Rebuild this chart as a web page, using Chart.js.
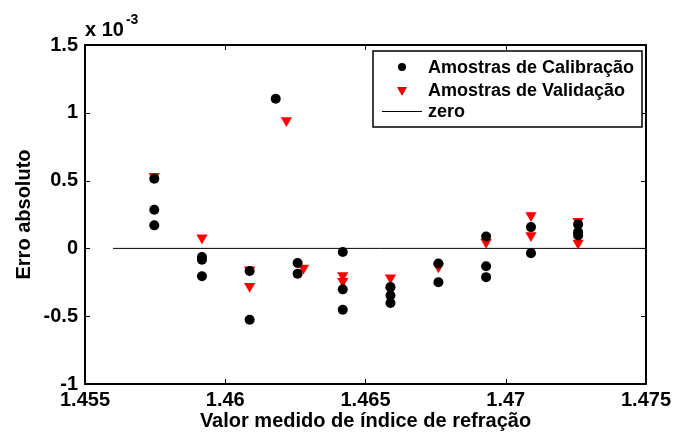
<!DOCTYPE html>
<html>
<head>
<meta charset="utf-8">
<script src="https://cdn.jsdelivr.net/npm/chart.js@4/dist/chart.umd.min.js"></script>
<style>
  html, body { margin: 0; padding: 0; background: #fff; }
  #wrap { width: 675px; height: 437px; }
</style>
</head>
<body>
<div id="wrap"><canvas id="chart" width="675" height="437"></canvas></div>
<script>
// erro absoluto em unidades de 10^-3
const calX = [1.45747, 1.45747, 1.45747, 1.45917, 1.45917, 1.45917, 1.46180,
  1.46087, 1.46087, 1.46258, 1.46258, 1.46419, 1.46419, 1.46419,
  1.46589, 1.46589, 1.46589, 1.46760, 1.46760, 1.46930, 1.46930, 1.46930,
  1.47090, 1.47090, 1.47258, 1.47258, 1.47258];
const calY = [0.514, 0.285, 0.170, -0.064, -0.083, -0.206, 1.104,
  -0.167, -0.526, -0.108, -0.187, -0.027, -0.302, -0.452,
  -0.285, -0.347, -0.403, -0.111, -0.249, 0.088, -0.131, -0.212,
  0.157, -0.035, 0.177, 0.120, 0.096];

const valX = [1.45747, 1.45917, 1.46218, 1.46087, 1.46087, 1.46279,
  1.46419, 1.46419, 1.46589, 1.46589, 1.46760, 1.46930,
  1.47090, 1.47090, 1.47258, 1.47258];
const valY = [0.533, 0.079, 0.944, -0.157, -0.280, -0.145,
  -0.199, -0.243, -0.216, -0.310, -0.135, 0.046,
  0.243, 0.096, 0.201, 0.039];

const zeroX = [1.456, 1.475];
const zeroY = [0, 0];

const seriesNames = ['Amostras de Calibração', 'Amostras de Validação', 'zero'];
const xTitle = 'Valor medido de índice de refração';
const yTitle = 'Erro absoluto';

const FONT = "'Liberation Sans', Arial, sans-serif";

function pts(xs, ys) {
  return xs.map((x, i) => ({ x: x, y: ys[i] }));
}

// caixa do grafico + ticks para dentro (estilo matlab)
const boxPlugin = {
  id: 'box',
  afterDraw(chart) {
    const ctx = chart.ctx;
    const a = chart.chartArea;
    const xs = chart.scales.x, ys = chart.scales.y;
    ctx.save();
    ctx.strokeStyle = '#000';
    ctx.lineWidth = 2;
    ctx.strokeRect(a.left, a.top, a.right - a.left, a.bottom - a.top);
    ctx.lineWidth = 1;
    ctx.beginPath();
    xs.ticks.forEach(t => {
      const px = Math.round(xs.getPixelForValue(t.value)) + 0.5;
      ctx.moveTo(px, a.bottom); ctx.lineTo(px, a.bottom - 5);
      ctx.moveTo(px, a.top); ctx.lineTo(px, a.top + 5);
    });
    ys.ticks.forEach(t => {
      const py = Math.round(ys.getPixelForValue(t.value)) + 0.5;
      ctx.moveTo(a.left, py); ctx.lineTo(a.left + 5, py);
      ctx.moveTo(a.right, py); ctx.lineTo(a.right - 5, py);
    });
    ctx.stroke();

    // multiplicador do eixo y
    ctx.fillStyle = '#000';
    ctx.textBaseline = 'middle';
    ctx.textAlign = 'left';
    ctx.font = 'bold 20px ' + FONT;
    ctx.fillText('x 10', a.left, a.top - 15);
    const w = ctx.measureText('x 10').width;
    ctx.font = 'bold 14px ' + FONT;
    ctx.fillText('-3', a.left + w + 2, a.top - 25);

    // legenda
    const lx = 373, ly = 51, lw = 269, lh = 76;
    ctx.fillStyle = '#fff';
    ctx.fillRect(lx, ly, lw, lh);
    ctx.lineWidth = 1.5;
    ctx.strokeRect(lx, ly, lw, lh);
    const rows = [67, 90, 111];
    chart.data.datasets.forEach((ds, i) => {
      const y = rows[i];
      if (i === 2) {
        ctx.beginPath();
        ctx.strokeStyle = ds.borderColor;
        ctx.lineWidth = ds.borderWidth;
        ctx.moveTo(382, y + 0.5); ctx.lineTo(422, y + 0.5);
        ctx.stroke();
      } else {
        Chart.helpers.drawPoint(ctx, {
          pointStyle: ds.pointStyle, radius: ds.pointRadius - 1,
          rotation: ds.rotation || 0, borderWidth: 0
        }, 402, y);
        ctx.fillStyle = ds.backgroundColor;
        ctx.fill();
      }
      ctx.fillStyle = '#000';
      ctx.font = 'bold 18px ' + FONT;
      ctx.textAlign = 'left';
      ctx.textBaseline = 'middle';
      ctx.fillText(ds.label, 428, y + 1);
    });
    ctx.restore();
  }
};

new Chart(document.getElementById('chart'), {
  type: 'scatter',
  data: {
    datasets: [
      {
        label: seriesNames[0],
        data: pts(calX, calY),
        pointStyle: 'circle',
        pointRadius: 5,
        backgroundColor: '#000',
        borderColor: '#000',
        borderWidth: 0
      },
      {
        label: seriesNames[1],
        data: pts(valX, valY),
        pointStyle: 'triangle',
        rotation: 180,
        pointRadius: 6.5,
        backgroundColor: '#ff0000',
        borderColor: '#ff0000',
        borderWidth: 0
      },
      {
        label: seriesNames[2],
        data: pts(zeroX, zeroY),
        showLine: true,
        pointRadius: 0,
        borderColor: '#000',
        borderWidth: 1
      }
    ]
  },
  options: {
    responsive: false,
    animation: false,
    layout: { padding: { left: 0, right: 28, top: 45, bottom: 0 } },
    plugins: {
      legend: { display: false },
      tooltip: { enabled: false }
    },
    scales: {
      x: {
        type: 'linear',
        min: 1.455, max: 1.475,
        grid: { display: false, drawTicks: false },
        border: { display: false },
        afterFit: s => { s.height = 53; },
        ticks: {
          stepSize: 0.005,
          padding: 4,
          color: '#000',
          font: { family: FONT, size: 20, weight: 'bold' },
          maxRotation: 0,
          callback: v => String(+v.toFixed(3))
        },
        title: {
          display: true,
          text: xTitle,
          color: '#000',
          font: { family: FONT, size: 20, weight: 'bold' },
          padding: { top: 0, bottom: 4 }
        }
      },
      y: {
        min: -1, max: 1.5,
        grid: { display: false, drawTicks: false },
        border: { display: false },
        afterFit: s => { s.width = 85; },
        ticks: {
          stepSize: 0.5,
          padding: 7,
          color: '#000',
          font: { family: FONT, size: 20, weight: 'bold' },
          callback: v => String(+v.toFixed(1))
        },
        title: {
          display: true,
          text: yTitle,
          color: '#000',
          font: { family: FONT, size: 20, weight: 'bold' },
          padding: { top: 12, bottom: 0 }
        }
      }
    }
  },
  plugins: [boxPlugin]
});
</script>
</body>
</html>
